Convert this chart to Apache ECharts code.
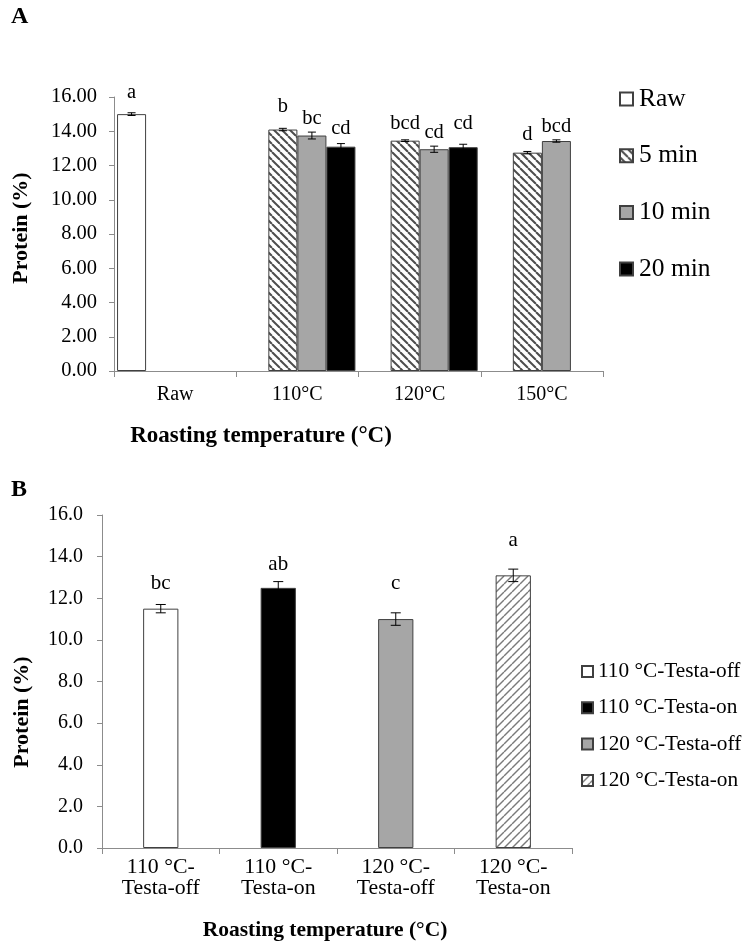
<!DOCTYPE html>
<html><head><meta charset="utf-8">
<script src="https://cdn.jsdelivr.net/npm/echarts@6/dist/echarts.min.js"></script>
<style>html,body{margin:0;padding:0;background:#fff}#c{width:750px;height:945px}</style>
</head><body><div id="c"></div>
<script>
// ---------- Panel A data ----------
const catsA = ['Raw', '110°C', '120°C', '150°C'];
const namesA = ['Raw', '5 min', '10 min', '20 min'];
const rawVals  = [15.0, null, null, null];
const m5Vals   = [null, 14.10, 13.45, 12.75];
const m10Vals  = [null, 13.75, 12.95, 13.43];
const m20Vals  = [null, 13.10, 13.07, null];
const rawErr   = [0.08, null, null, null];
const m5Err    = [null, 0.07, 0.05, 0.07];
const m10Err   = [null, 0.20, 0.18, 0.07];
const m20Err   = [null, 0.18, 0.17, null];
const rawLab   = ['a', '', '', ''];
const m5Lab    = ['', 'b', 'bcd', 'd'];
const m10Lab   = ['', 'bc', 'cd', 'bcd'];
const m20Lab   = ['', 'cd', 'cd', ''];
const ticksA = [0, 2, 4, 6, 8, 10, 12, 14, 16];

// ---------- Panel B data ----------
const catsB = ['110 °C-\nTesta-off', '110 °C-\nTesta-on', '120 °C-\nTesta-off', '120 °C-\nTesta-on'];
const namesB = ['110 °C-Testa-off', '110 °C-Testa-on', '120 °C-Testa-off', '120 °C-Testa-on'];
const valsB = [11.5, 12.5, 11.0, 13.1];
const errB  = [0.2, 0.3, 0.3, 0.3];
const labB  = ['bc', 'ab', 'c', 'a'];

const FONT = "'Liberation Serif','Times New Roman',serif";

// label spacing above error bars (style, px)
const styleGapA = [[10, 0, 0, 0], [0, 11, 6, 6], [0, 3, 3, 3], [0, 4, 10, 0]];
const styleGapB = [11, 7, 19, 18];

function stripes(dir, line, bg, s, lw) {
  const c = document.createElement('canvas');
  c.width = s; c.height = s;
  const g = c.getContext('2d');
  g.fillStyle = bg; g.fillRect(0, 0, s, s);
  g.strokeStyle = line; g.lineWidth = lw;
  for (let k = -1; k <= 1; k++) {
    g.beginPath();
    if (dir === '\\') { g.moveTo(k * s, 0); g.lineTo(k * s + s, s); }
    else { g.moveTo(k * s + s, 0); g.lineTo(k * s, s); }
    g.stroke();
  }
  return c;
}
const patA = { image: stripes('\\', '#4d4d4d', '#fff', 8, 2), repeat: 'repeat' };
const patB = { image: stripes('/', '#7a7a7a', '#fff', 8, 1.4), repeat: 'repeat' };

const colorsA = ['#ffffff', patA, '#a6a6a6', '#000000'];
const colorsB = ['#ffffff', '#000000', '#a6a6a6', patB];

const valsA = [rawVals, m5Vals, m10Vals, m20Vals];
const errsA = [rawErr, m5Err, m10Err, m20Err];
const labsA = [rawLab, m5Lab, m10Lab, m20Lab];

const errDataA = [];
const gapListA = [];
const labListA = [];
valsA.forEach((arr, s) => arr.forEach((v, i) => {
  if (v != null) {
    errDataA.push([i, v, errsA[s][i], s]);
    gapListA.push(styleGapA[s][i]);
    labListA.push(labsA[s][i]);
  }
}));
const errDataB = valsB.map((v, i) => [i, v, errB[i], 0]);

function errRender(nSlots, groupFrac, labels, gaps, fontSize, cap) {
  return function (params, api) {
    const cat = api.value(0), v = api.value(1), e = api.value(2), slot = api.value(3);
    const lab = labels[params.dataIndex];
    const c = api.coord([cat, v]);
    const top = api.coord([cat, v + e]);
    const bot = api.coord([cat, v - e]);
    const bw = api.size([1, 0])[0];
    let x = c[0];
    if (nSlots > 1) {
      const gw = bw * groupFrac, sw = gw / nSlots;
      x = c[0] - gw / 2 + sw * (slot + 0.5);
    }
    const st = { stroke: '#000', lineWidth: 1 };
    return {
      type: 'group',
      children: [
        { type: 'line', shape: { x1: x, y1: top[1], x2: x, y2: bot[1] }, style: st },
        { type: 'line', shape: { x1: x - cap, y1: top[1], x2: x + cap, y2: top[1] }, style: st },
        { type: 'line', shape: { x1: x - cap, y1: bot[1], x2: x + cap, y2: bot[1] }, style: st },
        { type: 'text', style: { text: lab, x: x, y: top[1] - gaps[params.dataIndex], textAlign: 'center', textVerticalAlign: 'bottom',
          font: fontSize + 'px ' + FONT, fill: '#000' } }
      ]
    };
  };
}

const axisLineStyle = { lineStyle: { color: '#8c8c8c', width: 1 } };

const seriesA = namesA.map((n, s) => ({
  name: n, type: 'bar', xAxisIndex: 0, yAxisIndex: 0,
  data: valsA[s].map(v => v == null ? '-' : v),
  barGap: '0%', barCategoryGap: '5%',
  itemStyle: { color: colorsA[s], borderColor: '#404040', borderWidth: 1 },
  emphasis: { disabled: true }, animation: false
}));
const seriesB = namesB.map((n, s) => ({
  name: n, type: 'bar', xAxisIndex: 1, yAxisIndex: 1, stack: 'B',
  data: valsB.map((v, i) => i === s ? v : '-'),
  barCategoryGap: '70%',
  itemStyle: { color: colorsB[s], borderColor: '#404040', borderWidth: 1 },
  emphasis: { disabled: true }, animation: false
}));

const chart = echarts.init(document.getElementById('c'), null, { renderer: 'canvas' });
chart.setOption({
  backgroundColor: '#fff',
  animation: false,
  textStyle: { fontFamily: FONT, color: '#000' },
  grid: [
    { left: 114, right: 147, top: 97, bottom: 574 },
    { left: 102, right: 178, top: 515, bottom: 97 }
  ],
  legend: [
    { data: namesA, orient: 'vertical', left: 614, top: 81, icon: 'rect', itemWidth: 13, itemHeight: 13, itemGap: 30.7,
      textStyle: { fontFamily: FONT, fontSize: 25.5, color: '#000', padding: [0, 0, 0, 1] }, selectedMode: false },
    { data: namesB, orient: 'vertical', left: 576, top: 656, icon: 'rect', itemWidth: 11, itemHeight: 11, itemGap: 15.3,
      textStyle: { fontFamily: FONT, fontSize: 21.3, color: '#000', padding: [0, 0, 0, 0] }, selectedMode: false }
  ],
  xAxis: [
    { type: 'category', gridIndex: 0, data: catsA, axisLine: axisLineStyle,
      axisTick: { show: true, length: 6, lineStyle: { color: '#8c8c8c' } },
      axisLabel: { color: '#000', fontFamily: FONT, fontSize: 20, margin: 14 } },
    { type: 'category', gridIndex: 1, data: catsB, axisLine: axisLineStyle,
      axisTick: { show: true, length: 6, lineStyle: { color: '#8c8c8c' } },
      axisLabel: { color: '#000', fontFamily: FONT, fontSize: 21.8, margin: 9, lineHeight: 21 } }
  ],
  yAxis: [
    { type: 'value', gridIndex: 0, min: ticksA[0], max: ticksA[ticksA.length - 1], interval: 2,
      axisLine: { show: true, lineStyle: { color: '#8c8c8c' } },
      axisTick: { show: true, length: 5, lineStyle: { color: '#8c8c8c' } },
      splitLine: { show: false },
      axisLabel: { color: '#000', fontFamily: FONT, fontSize: 20.5, margin: 17, formatter: v => v.toFixed(2) } },
    { type: 'value', gridIndex: 1, min: 0, max: 16, interval: 2,
      axisLine: { show: true, lineStyle: { color: '#8c8c8c' } },
      axisTick: { show: true, length: 5, lineStyle: { color: '#8c8c8c' } },
      splitLine: { show: false },
      axisLabel: { color: '#000', fontFamily: FONT, fontSize: 20, margin: 19, formatter: v => v.toFixed(1) } }
  ],
  graphic: [
    { type: 'text', left: 11, top: 5, style: { text: 'A', font: 'bold 24px ' + FONT, fill: '#000' } },
    { type: 'text', left: 11, top: 478, style: { text: 'B', font: 'bold 24px ' + FONT, fill: '#000' } },
    { type: 'text', x: 261, y: 436, style: { text: 'Roasting temperature (°C)', font: 'bold 23px ' + FONT, fill: '#000', textAlign: 'center', textVerticalAlign: 'middle' } },
    { type: 'text', x: 325, y: 930, style: { text: 'Roasting temperature (°C)', font: 'bold 21.5px ' + FONT, fill: '#000', textAlign: 'center', textVerticalAlign: 'middle' } },
    { type: 'text', x: 21, y: 228, rotation: Math.PI / 2, style: { text: 'Protein (%)', font: 'bold 22px ' + FONT, fill: '#000', textAlign: 'center', textVerticalAlign: 'middle' } },
    { type: 'text', x: 22, y: 712, rotation: Math.PI / 2, style: { text: 'Protein (%)', font: 'bold 22px ' + FONT, fill: '#000', textAlign: 'center', textVerticalAlign: 'middle' } }
  ],
  series: seriesA.concat(seriesB).concat([
    { id: 'errA', type: 'custom', xAxisIndex: 0, yAxisIndex: 0, data: errDataA,
      encode: { x: 0, y: 1 }, renderItem: errRender(4, 0.95, labListA, gapListA, 20.5, 4), z: 10, silent: true },
    { id: 'errB', type: 'custom', xAxisIndex: 1, yAxisIndex: 1, data: errDataB,
      encode: { x: 0, y: 1 }, renderItem: errRender(1, 1, labB, styleGapB, 21, 5), z: 10, silent: true }
  ])
});
</script>
</body></html>
